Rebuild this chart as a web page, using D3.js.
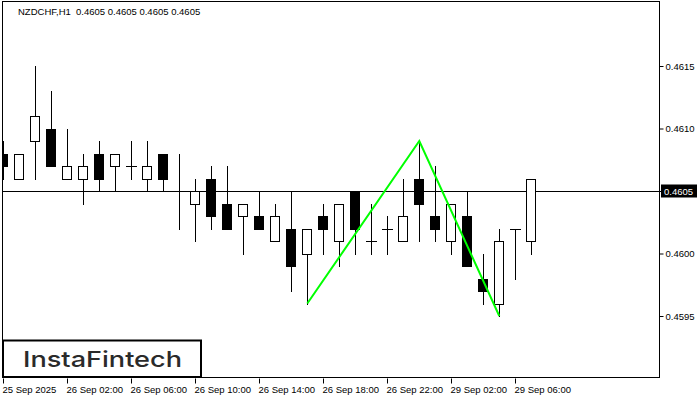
<!DOCTYPE html>
<html><head><meta charset="utf-8">
<script src="https://cdn.jsdelivr.net/npm/d3@7"></script>
<style>
html,body{margin:0;padding:0;background:#fff;}
svg{display:block;}
text{font-family:"Liberation Sans",Arial,sans-serif;}
</style></head>
<body>
<svg id="chart" width="700" height="400"></svg>
<script>
// ---- data ----
const timeLabels = ["25 Sep 2025","26 Sep 02:00","26 Sep 06:00","26 Sep 10:00","26 Sep 14:00","26 Sep 18:00","26 Sep 22:00","29 Sep 02:00","29 Sep 06:00"];
const labelIndex = [0,4,8,12,16,20,24,28,32];
const opens  = [0.4608,0.4606,0.4609,0.4610,0.4606,0.4606,0.4608,0.4607,0.4607,0.4606,0.4608,0.4605,0.4604,0.4606,0.4604,0.4603,0.4603,0.4601,0.4602,0.4600,0.4603,0.4601,0.4605,0.4601,0.4602,0.4601,0.4606,0.4603,0.4601,0.4603,0.4598,0.4596,0.4602,0.4601];
const highs  = [0.4609,0.4608,0.4615,0.4613,0.4610,0.4608,0.4609,0.4608,0.4609,0.4609,0.4608,0.4608,0.4606,0.4607,0.4607,0.4604,0.4605,0.4604,0.4605,0.4602,0.4604,0.4604,0.4605,0.4604,0.4603,0.4606,0.4609,0.4607,0.4604,0.4605,0.4600,0.4602,0.4602,0.4606];
const lows   = [0.4606,0.4606,0.4606,0.4607,0.4606,0.4604,0.4605,0.4605,0.4606,0.4605,0.4605,0.4602,0.4601,0.4602,0.4602,0.4600,0.4602,0.4601,0.4597,0.4596,0.4600,0.4599,0.4600,0.4600,0.4600,0.4601,0.4601,0.4601,0.4600,0.4599,0.4596,0.4595,0.4598,0.4600];
const closes = [0.4607,0.4608,0.4611,0.4607,0.4607,0.4607,0.4606,0.4608,0.4607,0.4607,0.4606,0.4605,0.4605,0.4603,0.4602,0.4604,0.4602,0.4603,0.4599,0.4602,0.4602,0.4604,0.4602,0.4601,0.4602,0.4603,0.4604,0.4602,0.4604,0.4599,0.4597,0.4601,0.4602,0.4606];
const patternIdx    = [19, 26, 31];
const patternPrices = [0.4596, 0.4609, 0.4595];
const priceTicks = [0.4595, 0.4600, 0.4605, 0.4610, 0.4615];
const currentPrice = 0.4605;
const titleText = "NZDCHF,H1  0.4605 0.4605 0.4605 0.4605";
const logoText = "InstaFintech";

// ---- layout ----
const L = 3, R = 659, T = 2, B = 378;
const svg = d3.select("#chart");
const x = d3.scaleLinear().domain([0, 41]).range([3.3, 659.3]);
const y = d3.scaleLinear().domain([0.4595, 0.4615]).range([316, 66]);
const px = i => Math.round(x(i));
const py = v => Math.round(y(v));

const candles = opens.map((o, i) => ({i, o, h: highs[i], l: lows[i], c: closes[i]}));

const clipG = svg.append("defs").append("clipPath").attr("id","plot")
  .append("rect").attr("x", L).attr("y", T).attr("width", R - L).attr("height", B - T);

const plot = svg.append("g").attr("clip-path","url(#plot)");

// current price line
plot.append("line")
  .attr("x1", L).attr("x2", R)
  .attr("y1", py(currentPrice) + 0.5).attr("y2", py(currentPrice) + 0.5)
  .attr("stroke", "#000").attr("stroke-width", 1);

// candles
const cg = plot.selectAll("g.candle").data(candles).enter().append("g").attr("class","candle");
cg.append("line")
  .attr("x1", d => px(d.i) + 0.5).attr("x2", d => px(d.i) + 0.5)
  .attr("y1", d => py(d.h)).attr("y2", d => py(d.l) + 1)
  .attr("stroke", "#000").attr("stroke-width", 1);
cg.filter(d => Math.abs(d.o - d.c) > 1e-7).append("rect")
  .attr("x", d => px(d.i) - 4.5)
  .attr("width", 9)
  .attr("y", d => py(Math.max(d.o, d.c)) + 0.5)
  .attr("height", d => py(Math.min(d.o, d.c)) - py(Math.max(d.o, d.c)))
  .attr("fill", d => d.c < d.o ? "#000" : "#fff")
  .attr("stroke", "#000").attr("stroke-width", 1);
cg.filter(d => Math.abs(d.o - d.c) <= 1e-7).append("line")
  .attr("x1", d => px(d.i) - 5).attr("x2", d => px(d.i) + 6)
  .attr("y1", d => py(d.o) + 0.5).attr("y2", d => py(d.o) + 0.5)
  .attr("stroke", "#000").attr("stroke-width", 1);

// double top pattern line
const line = d3.line().x(d => x(d[0])).y(d => y(d[1]));
plot.append("path")
  .datum(patternIdx.map((d, k) => [d, patternPrices[k]]))
  .attr("d", line)
  .attr("fill", "none").attr("stroke", "#00ff00").attr("stroke-width", 2);

// frame
svg.append("rect").attr("x", L - 0.5).attr("y", T - 0.5).attr("width", R - L + 1).attr("height", B - T)
  .attr("fill", "none").attr("stroke", "#000").attr("stroke-width", 1);

// right axis
const ay = svg.append("g").attr("transform", `translate(${R + 0.5},0)`)
  .call(d3.axisRight(y).tickValues(priceTicks).tickSize(4).tickPadding(2).tickFormat(d3.format(".4f")));
ay.select(".domain").remove();
ay.selectAll(".tick line").attr("stroke", "#000");
ay.selectAll(".tick text").attr("fill", "#000").style("font-size", "9.5px").style("font-family", "'Liberation Sans',Arial,sans-serif");
ay.selectAll(".tick").filter(d => Math.abs(d - currentPrice) < 1e-7).select("text").remove();

// current price tag
const tagY = y(currentPrice);
svg.append("rect").attr("x", 661).attr("y", tagY - 6.5).attr("width", 36).attr("height", 13).attr("fill", "#000");
svg.append("text").attr("x", 664).attr("y", tagY + 4).attr("fill", "#fff")
  .style("font-size", "9.5px").text(d3.format(".4f")(currentPrice));

// bottom axis
const ax = svg.append("g").attr("transform", `translate(0,${B + 0.5})`)
  .call(d3.axisBottom(x).tickValues(labelIndex).tickSize(5).tickPadding(3)
    .tickFormat((d, k) => timeLabels[k]));
ax.select(".domain").remove();
ax.selectAll(".tick").attr("transform", d => `translate(${px(d) + 0.5},0)`);
ax.selectAll(".tick line").attr("stroke", "#000");
ax.selectAll(".tick text").attr("fill", "#000").attr("text-anchor", "start").attr("x", -1)
  .style("font-size", "9.5px").style("font-family", "'Liberation Sans',Arial,sans-serif");

// title
svg.append("text").attr("x", 18).attr("y", 15).attr("fill", "#000")
  .style("font-size", "9.5px").attr("xml:space","preserve").text(titleText);

// logo
svg.append("rect").attr("x", 3).attr("y", 340.5).attr("width", 198).attr("height", 36.5)
  .attr("fill", "#fff").attr("stroke", "#000").attr("stroke-width", 2);
svg.append("text").attr("x", 23).attr("y", 367).attr("fill", "#2a2a2a")
  .attr("textLength", 159).attr("lengthAdjust", "spacingAndGlyphs")
  .style("font-family", "Inter, 'Open Sans', sans-serif").style("font-size", "22px").style("font-weight", "500")
  .text(logoText);
</script>
</body></html>
